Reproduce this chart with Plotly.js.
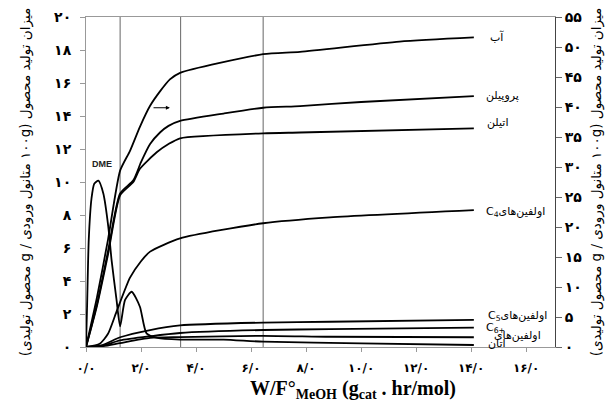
<!DOCTYPE html>
<html><head><meta charset="utf-8">
<script src="https://cdn.plot.ly/plotly-3.0.1.min.js"></script>
<style>body{margin:0;background:#fff}#c{width:614px;height:408px}</style>
</head><body><div id="c"></div>
<script>
// x values: W/F°MeOH (gcat.hr/mol)
const waterX = [0, 0.4, 0.8, 1.24, 1.6, 1.96, 2.33, 2.69, 3.05, 3.42, 6.44, 7.78, 11.4, 14.1];
const waterY = [0, 8.3, 17.9, 29.4, 32.7, 36.7, 40.2, 42.6, 44.6, 45.7, 48.8, 49.2, 50.9, 51.6]; // right axis
const propX = [0, 0.4, 0.8, 1.24, 1.72, 2.0, 2.33, 2.69, 3.0, 3.42, 5.0, 6.44, 7.78, 10.0, 14.1];
const propY = [0, 2.6, 5.8, 9.3, 10.1, 11.2, 12.3, 13.0, 13.4, 13.7, 14.15, 14.5, 14.6, 14.85, 15.2];
const ethX = [0, 0.4, 0.8, 1.24, 1.72, 1.96, 2.57, 3.0, 3.42, 6.44, 7.78, 14.1];
const ethY = [0, 2.5, 5.6, 9.2, 10.0, 10.8, 11.8, 12.3, 12.65, 12.95, 13.0, 13.25];
const c4X = [0, 0.5, 0.8, 1.1, 1.6, 2.0, 2.33, 3.42, 6.44, 8.87, 14.1];
const c4Y = [0, 0.2, 0.8, 2.1, 4.2, 5.2, 5.78, 6.58, 7.5, 7.86, 8.3];
const c5X = [0, 0.6, 1.24, 2.33, 3.42, 6.44, 8.87, 14.1];
const c5Y = [0, 0.12, 0.59, 1.03, 1.31, 1.48, 1.53, 1.64];
const c6X = [0, 0.6, 1.24, 2.33, 3.42, 6.44, 8.87, 14.1];
const c6Y = [0, 0.08, 0.4, 0.65, 0.85, 1.03, 1.08, 1.17];
const ethaneX = [0, 0.6, 1.24, 2.33, 3.42, 6.44, 8.87, 14.1];
const ethaneY = [0, 0.05, 0.24, 0.55, 0.6, 0.68, 0.62, 0.59];
const dmeX = [0, 0.04, 0.1, 0.2, 0.3, 0.45, 0.63, 0.81, 0.93, 1.11, 1.24, 1.42, 1.66, 1.96, 2.2, 2.6, 3.42, 5.0, 6.44, 10.0, 14.1];
const dmeY = [0, 2.5, 6.5, 9.0, 9.9, 10.08, 9.3, 7.3, 5.27, 2.85, 1.25, 2.85, 3.35, 2.44, 0.83, 0.55, 0.45, 0.45, 0.32, 0.22, 0.12];

const xTicks = [0, 2, 4, 6, 8, 10, 12, 14, 16];
const xTickText = ['۰/۰', '۲/۰', '۴/۰', '۶/۰', '۸/۰', '۱۰/۰', '۱۲/۰', '۱۴/۰', '۱۶/۰'];
const yTicks = [0, 2, 4, 6, 8, 10, 12, 14, 16, 18, 20];
const yTickText = ['۰', '۲', '۴', '۶', '۸', '۱۰', '۱۲', '۱۴', '۱۶', '۱۸', '۲۰'];
const y2Ticks = [0, 5, 10, 15, 20, 25, 30, 35, 40, 45, 50, 55];
const y2TickText = ['۰', '۵', '۱۰', '۱۵', '۲۰', '۲۵', '۳۰', '۳۵', '۴۰', '۴۵', '۵۰', '۵۵'];
const gridLinesX = [1.24, 3.44, 6.44];

const seriesLabels = ['آب', 'پروپیلن', 'اتیلن', 'C<sub>4</sub>اولفین‌های', 'C<sub>5</sub>اولفین‌های', 'C<sub>6+</sub>', 'اولفین‌های', 'اتان', 'DME'];

const ln = {color: '#000', width: 1.8, shape: 'spline', smoothing: 0.6};
function tr(x, y, name, ax) {
  return {x: x, y: y, name: name, type: 'scatter', mode: 'lines', line: ln, yaxis: ax || 'y', showlegend: false, hoverinfo: 'skip'};
}
const data = [
  tr(waterX, waterY, 'water', 'y2'),
  tr(propX, propY, 'propylene'),
  tr(ethX, ethY, 'ethylene'),
  tr(c4X, c4Y, 'C4'),
  tr(c5X, c5Y, 'C5'),
  tr(c6X, c6Y, 'C6+'),
  tr(ethaneX, ethaneY, 'ethane'),
  tr(dmeX, dmeY, 'DME')
];

const labFont = {family: 'DejaVu Sans, Noto Sans, sans-serif', size: 11, color: '#000'};
const labPos = [[14.95, 18.8], [15.13, 15.23], [14.95, 13.58], [15.6, 8.18], [15.67, 1.88], [14.87, 1.14], [15.67, 0.67], [14.95, 0.22], [0.58, 11.1]];
const annotations = seriesLabels.map((t, i) => ({
  text: t, x: labPos[i][0], y: labPos[i][1], xref: 'x', yref: 'y', showarrow: false,
  font: i === 8 ? {family: 'Liberation Sans, Arial, sans-serif', size: 9, color: '#222', weight: 'bold'} : labFont
}));
annotations.push({x: 3.05, y: 14.5, ax: 2.4, ay: 14.5, xref: 'x', yref: 'y', axref: 'x', ayref: 'y',
  showarrow: true, arrowhead: 2, arrowsize: 0.8, arrowwidth: 1, arrowcolor: '#000', text: ''});

const shapes = gridLinesX.map(v => ({type: 'line', xref: 'x', yref: 'paper', x0: v, x1: v, y0: 0, y1: 1,
  line: {color: '#666', width: 1}, layer: 'below'}));

const tickFont = {family: 'DejaVu Sans, sans-serif', size: 14, color: '#000', weight: 'bold'};
const yTitle = '\u202Bمیزان تولید محصول (۱۰۰g متانول ورودی / g محصول تولیدی)\u202C';
const sp = '&nbsp;'.repeat(13);
const layout = {
  width: 614, height: 408,
  margin: {l: 86, r: 59, t: 17, b: 61},
  paper_bgcolor: '#fff', plot_bgcolor: '#fff',
  xaxis: {range: [0, 17.05], tickvals: xTicks, ticktext: xTickText, tickfont: {family: 'DejaVu Sans, sans-serif', size: 12, color: '#000', weight: 'bold'},
    showgrid: false, zeroline: false, showline: true, linecolor: '#999', linewidth: 1, mirror: true,
    ticks: 'outside', ticklen: 4, tickcolor: '#999', ticklabelstandoff: 6,
    title: {text: sp + 'W/F°<sub>MeOH</sub> (g<sub>cat</sub> . hr/mol)', font: {family: 'Liberation Serif, serif', size: 20, color: '#000', weight: 'bold'}, standoff: 6}},
  yaxis: {range: [0, 20], tickvals: yTicks, ticktext: yTickText, tickfont: tickFont,
    showgrid: false, zeroline: false, showline: true, linecolor: '#999', linewidth: 1,
    ticks: 'outside', ticklen: 5, tickcolor: '#999', ticklabelstandoff: 6,
    title: {text: yTitle, font: {family: 'DejaVu Sans, sans-serif', size: 13.5, color: '#000'}, standoff: 20}},
  yaxis2: {range: [0, 55], overlaying: 'y', side: 'right', tickvals: y2Ticks, ticktext: y2TickText, tickfont: tickFont,
    showgrid: false, zeroline: false, showline: true, linecolor: '#444', linewidth: 1,
    ticks: 'outside', ticklen: 6, tickcolor: '#666',
    title: {text: yTitle, font: {family: 'DejaVu Sans, sans-serif', size: 13.5, color: '#000'}, standoff: 10}},
  annotations: annotations,
  shapes: shapes,
  showlegend: false
};
Plotly.newPlot('c', data, layout, {displayModeBar: false, staticPlot: true});
</script></body></html>
